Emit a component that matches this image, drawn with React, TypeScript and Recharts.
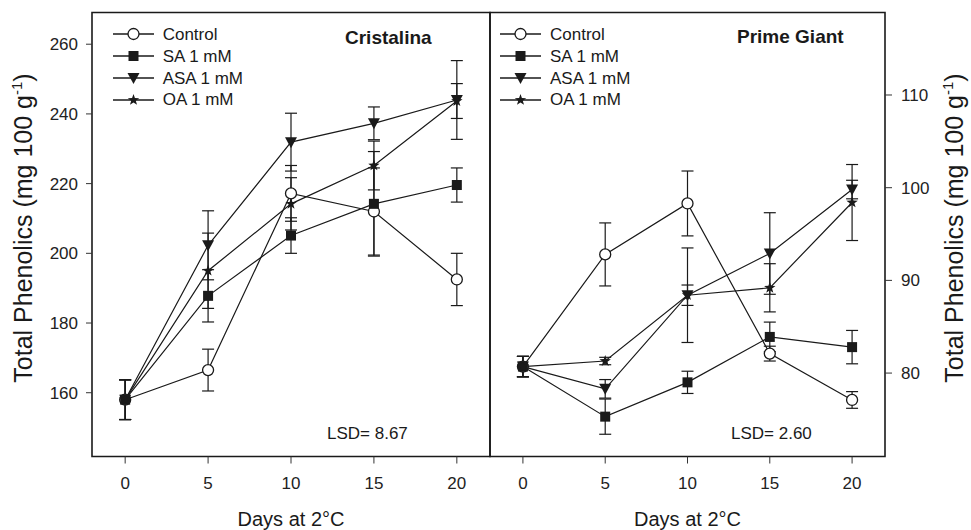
import React from "react";
import {
  LineChart,
  Line,
  XAxis,
  YAxis,
  ErrorBar,
  ReferenceArea,
  Legend,
  Label,
} from "recharts";

// Days of storage at 2°C
const days = [0, 5, 10, 15, 20];

// Cristalina (left panel)
const crControl = [158, 166.5, 217.2, 212, 192.5];
const crControlErr = [5.7, 6, 8, 12.5, 7.5];
const crSA = [158, 187.8, 205.1, 214.2, 219.6];
const crSAErr = [5.7, 7.5, 5.1, 15, 4.9];
const crASA = [158, 202.3, 231.9, 237.3, 244];
const crASAErr = [5.7, 9.9, 8.3, 4.7, 11.3];
const crOA = [158, 195, 214.2, 225.2, 243.7];
const crOAErr = [5.7, 10.8, 7.5, 7, 5];

// Prime Giant (right panel)
const pgControl = [80.7, 92.8, 98.3, 82.1, 77.1];
const pgControlErr = [1.1, 3.4, 3.5, 0.8, 0.9];
const pgSA = [80.7, 75.3, 79, 83.9, 82.8];
const pgSAErr = [1.1, 1.9, 1.2, 1.6, 1.8];
const pgASA = [80.7, 78.3, 88.4, 92.9, 99.8];
const pgASAErr = [1.1, 1, 5.1, 4.4, 1];
const pgOA = [80.7, 81.3, 88.4, 89.2, 98.4];
const pgOAErr = [1.1, 0.4, 1.1, 2.6, 4.1];

const xTicks = [0, 5, 10, 15, 20];
const crTicks = [160, 180, 200, 220, 240, 260];
const pgTicks = [80, 90, 100, 110];

const X_DOMAIN: [number, number] = [-2, 22];
const CR_DOMAIN: [number, number] = [141.7, 269.1];
const PG_DOMAIN: [number, number] = [71, 118.9];

const seriesNames = ["Control", "SA 1 mM", "ASA 1 mM", "OA 1 mM"];
const seriesKeys = ["control", "sa", "asa", "oa"];
const markerKinds = ["circle", "square", "triangle", "star"];

const FONT = "Arial, 'Liberation Sans', Helvetica, sans-serif";
const INK = "#1a1a1a";

const crData = days.map((d, i) => ({
  day: d,
  control: crControl[i],
  controlErr: crControlErr[i],
  sa: crSA[i],
  saErr: crSAErr[i],
  asa: crASA[i],
  asaErr: crASAErr[i],
  oa: crOA[i],
  oaErr: crOAErr[i],
}));

const pgData = days.map((d, i) => ({
  day: d,
  control: pgControl[i],
  controlErr: pgControlErr[i],
  sa: pgSA[i],
  saErr: pgSAErr[i],
  asa: pgASA[i],
  asaErr: pgASAErr[i],
  oa: pgOA[i],
  oaErr: pgOAErr[i],
}));

function Marker({ cx, cy, kind }: { cx?: number; cy?: number; kind: string }) {
  if (cx == null || cy == null) return null;
  if (kind === "circle") {
    return <circle cx={cx} cy={cy} r={5.5} fill="#fff" stroke={INK} strokeWidth={1.3} />;
  }
  if (kind === "square") {
    return <rect x={cx - 5} y={cy - 5} width={10} height={10} fill={INK} />;
  }
  if (kind === "triangle") {
    return (
      <polygon
        points={`${cx - 6},${cy - 5} ${cx + 6},${cy - 5} ${cx},${cy + 6}`}
        fill={INK}
      />
    );
  }
  // five pointed star
  const pts: string[] = [];
  for (let k = 0; k < 10; k++) {
    const r = k % 2 === 0 ? 6 : 2.4;
    const a = -Math.PI / 2 + (k * Math.PI) / 5;
    pts.push(`${cx + r * Math.cos(a)},${cy + r * Math.sin(a)}`);
  }
  return <polygon points={pts.join(" ")} fill={INK} />;
}

const LegendBox = () => (
  <div style={{ fontFamily: FONT, fontSize: 17, color: INK }}>
    {seriesNames.map((name, i) => (
      <div key={name} style={{ display: "flex", alignItems: "center", height: 21.9 }}>
        <svg width={41} height={16} style={{ display: "block" }}>
          <line x1={0} x2={41} y1={8} y2={8} stroke={INK} strokeWidth={1.3} />
          <Marker cx={20.5} cy={8} kind={markerKinds[i]} />
        </svg>
        <span style={{ marginLeft: 9, lineHeight: 1 }}>{name}</span>
      </div>
    ))}
  </div>
);

// rotated axis title, x is the baseline position after rotation
const YTitle = ({ x, y }: { x: number; y: number }) => (
  <text
    x={x}
    y={y}
    transform={`rotate(-90 ${x} ${y})`}
    textAnchor="middle"
    fontFamily={FONT}
    fontSize={25}
    fill={INK}
  >
    Total Phenolics (mg 100 g
    <tspan dy={-10} fontSize={15}>-1</tspan>
    <tspan dy={10}>)</tspan>
  </text>
);

const tickStyle = { fontFamily: FONT, fontSize: 17, fill: "#222" };

function Series() {
  return seriesKeys.map((key, i) => (
    <Line
      key={key}
      type="linear"
      dataKey={key}
      stroke={INK}
      strokeWidth={1.2}
      isAnimationActive={false}
      dot={(p: any) => <Marker key={`${key}-${p.index}`} cx={p.cx} cy={p.cy} kind={markerKinds[i]} />}
      activeDot={false}
    >
      <ErrorBar
        dataKey={`${key}Err`}
        width={6}
        stroke={INK}
        strokeWidth={1.2}
        direction="y"
        isAnimationActive={false}
      />
    </Line>
  ));
}

const textAbs = (left: number, top: number, extra: React.CSSProperties = {}): React.CSSProperties => ({
  position: "absolute",
  left,
  top,
  fontFamily: FONT,
  fontSize: 17,
  color: INK,
  lineHeight: 1,
  whiteSpace: "nowrap",
  ...extra,
});

export default function App() {
  return (
    <div
      style={{
        position: "absolute",
        left: 0,
        top: 0,
        width: 971,
        height: 530,
        background: "#fff",
        overflow: "hidden",
      }}
    >
      {/* Cristalina */}
      <div style={{ position: "absolute", left: 0, top: 0 }}>
        <LineChart width={492} height={530} data={crData} margin={{ top: 12.5, right: 2, bottom: 0, left: 0 }}>
          <XAxis
            dataKey="day"
            type="number"
            domain={X_DOMAIN}
            ticks={xTicks}
            axisLine={false}
            tickSize={7}
            tickMargin={13}
            tick={tickStyle}
            stroke="#333"
            height={73.5}
            allowDataOverflow
          >
            <Label value="Days at 2°C" position="insideBottom" offset={4} fontFamily={FONT} fontSize={20} fill={INK} />
          </XAxis>
          <YAxis
            type="number"
            domain={CR_DOMAIN}
            ticks={crTicks}
            axisLine={false}
            tickSize={6}
            tickMargin={8}
            tick={tickStyle}
            stroke="#333"
            width={92}
            allowDataOverflow
          >
            <Label content={() => <YTitle x={32} y={228} />} />
          </YAxis>
          <ReferenceArea
            x1={X_DOMAIN[0]}
            x2={X_DOMAIN[1]}
            y1={CR_DOMAIN[0]}
            y2={CR_DOMAIN[1]}
            fill="none"
            stroke={INK}
            strokeWidth={1.6}
            ifOverflow="visible"
          />
          {Series()}
          <Legend
            layout="vertical"
            align="center"
            verticalAlign="middle"
            content={() => <LegendBox />}
            wrapperStyle={{ left: 112.7, top: 23.3, width: "auto", height: "auto" }}
          />
        </LineChart>
      </div>

      {/* Prime Giant */}
      <div style={{ position: "absolute", left: 488, top: 0 }}>
        <LineChart width={483} height={530} data={pgData} margin={{ top: 12.5, right: 0, bottom: 0, left: 2 }}>
          <XAxis
            dataKey="day"
            type="number"
            domain={X_DOMAIN}
            ticks={xTicks}
            axisLine={false}
            tickSize={7}
            tickMargin={13}
            tick={tickStyle}
            stroke="#333"
            height={73.5}
            allowDataOverflow
          >
            <Label value="Days at 2°C" position="insideBottom" offset={4} fontFamily={FONT} fontSize={20} fill={INK} />
          </XAxis>
          <YAxis
            type="number"
            orientation="right"
            domain={PG_DOMAIN}
            ticks={pgTicks}
            axisLine={false}
            tickSize={7}
            tickMargin={9}
            tick={tickStyle}
            stroke="#333"
            width={86}
            allowDataOverflow
          >
            <Label content={() => <YTitle x={475} y={228} />} />
          </YAxis>
          <ReferenceArea
            x1={X_DOMAIN[0]}
            x2={X_DOMAIN[1]}
            y1={PG_DOMAIN[0]}
            y2={PG_DOMAIN[1]}
            fill="none"
            stroke={INK}
            strokeWidth={1.6}
            ifOverflow="visible"
          />
          {Series()}
          <Legend
            layout="vertical"
            align="center"
            verticalAlign="middle"
            content={() => <LegendBox />}
            wrapperStyle={{ left: 12, top: 23.3, width: "auto", height: "auto" }}
          />
        </LineChart>
      </div>

      {/* panel titles and LSD notes */}
      <div style={textAbs(345, 27.5, { fontWeight: "bold", fontSize: 19 })}>Cristalina</div>
      <div style={textAbs(737, 26.5, { fontWeight: "bold", fontSize: 19 })}>Prime Giant</div>
      <div style={textAbs(327, 425)}>LSD= 8.67</div>
      <div style={textAbs(731, 425)}>LSD= 2.60</div>
    </div>
  );
}
